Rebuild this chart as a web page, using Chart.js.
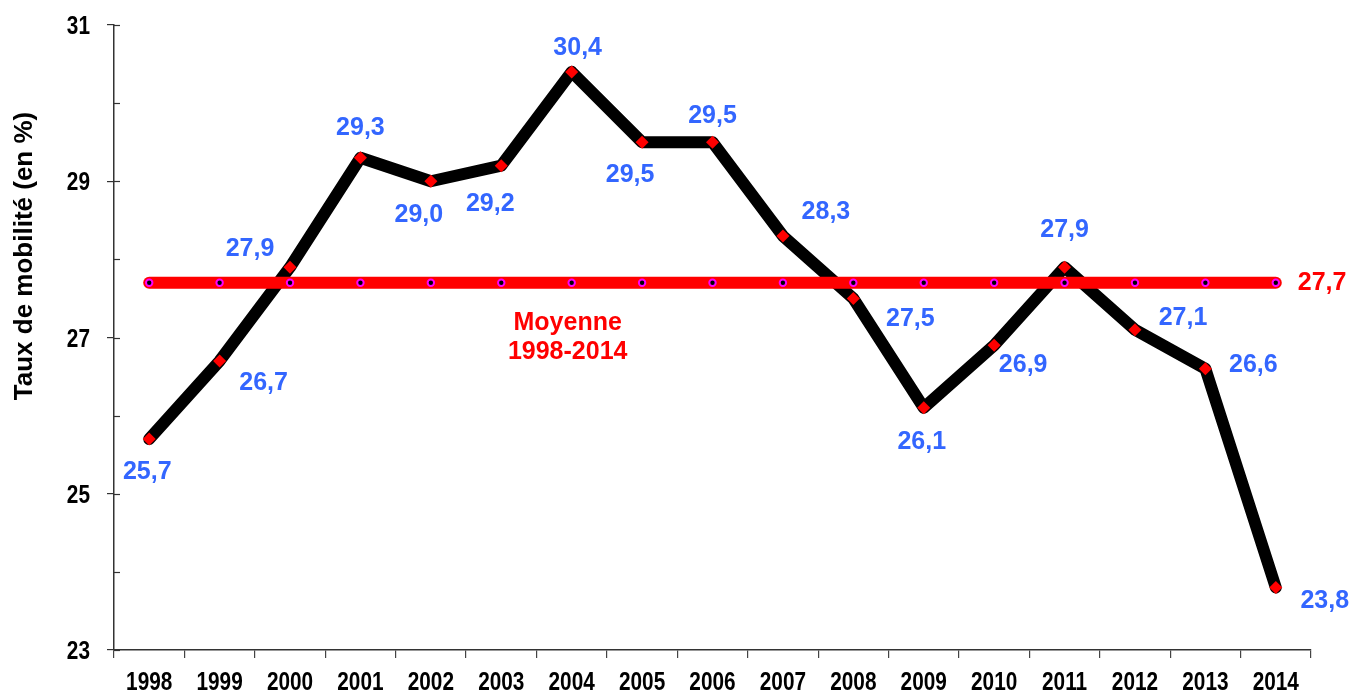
<!DOCTYPE html>
<html lang="fr">
<head>
<meta charset="utf-8">
<title>Taux de mobilité 1998-2014</title>
<script src="https://cdn.jsdelivr.net/npm/chart.js@4/dist/chart.umd.min.js"></script>
<style>
  html, body { margin: 0; padding: 0; background: #fff; overflow: hidden; }
  canvas { display: block; }
</style>
</head>
<body>
<canvas id="mobilite" width="1351" height="693"></canvas>
<script>
// data
const years = ["1998", "1999", "2000", "2001", "2002", "2003", "2004", "2005", "2006",
  "2007", "2008", "2009", "2010", "2011", "2012", "2013", "2014"];
const taux = [25.7, 26.7, 27.9, 29.3, 29.0, 29.2, 30.4, 29.5, 29.5,
  28.3, 27.5, 26.1, 26.9, 27.9, 27.1, 26.6, 23.8];
const moyenne = 27.7;
const moyenneText = ["Moyenne", "1998-2014"];
const yTickLabels = [23, 25, 27, 29, 31];
const yTitle = "Taux de mobilité (en %)";

// where each value label sits relative to its point (px)
const labelShift = [[-2, 33], [44, 22], [-40, -18], [0, -30], [-12, 34], [-11, 38],
  [6, -24], [-12, 33], [0, -26], [43, -24], [57, 21], [-2, 34], [29, 20],
  [0, -37], [48, -12], [48, -4], [49, 14]];

const sansBold = "'Liberation Sans', Arial, sans-serif";
const blue = "#3366FF";
const red = "#FF0000";
const narrow = 0.8; // horizontal squeeze that imitates Arial Narrow on the axes

function fr(v) {
  return v.toFixed(1).replace(".", ",");
}

// draws a narrow-looking label anchored (align) at x
function narrowText(ctx, txt, x, y, align) {
  ctx.save();
  ctx.translate(x, y);
  ctx.scale(narrow, 1);
  ctx.textAlign = align;
  ctx.fillText(txt, 0, 0);
  ctx.restore();
}

const extras = {
  id: "extras",
  afterDraw(chart) {
    const ctx = chart.ctx;
    const x = chart.scales.x;
    const y = chart.scales.y;
    ctx.save();

    // inner tick marks on the y axis (minor ones only inside)
    ctx.strokeStyle = "#333";
    ctx.lineWidth = 1.2;
    for (let v = 23; v <= 31; v++) {
      const py = Math.round(y.getPixelForValue(v)) + 0.5;
      ctx.beginPath();
      ctx.moveTo(x.left, py);
      ctx.lineTo(x.left + 6, py);
      ctx.stroke();
    }

    // axis labels
    ctx.fillStyle = "#000";
    ctx.font = "bold 26px " + sansBold;
    ctx.textBaseline = "alphabetic";
    x.ticks.forEach((t, i) => {
      narrowText(ctx, years[i], x.getPixelForTick(i), x.top + 40, "center");
    });
    yTickLabels.forEach((v) => {
      narrowText(ctx, String(v), x.left - 24, y.getPixelForValue(v) + 9, "right");
    });

    // value labels
    ctx.fillStyle = blue;
    ctx.font = "bold 25px " + sansBold;
    ctx.textAlign = "center";
    ctx.textBaseline = "middle";
    const meta = chart.getDatasetMeta(1);
    meta.data.forEach((pt, i) => {
      ctx.fillText(fr(taux[i]), pt.x + labelShift[i][0], pt.y + labelShift[i][1]);
    });

    // average annotations
    const ay = y.getPixelForValue(moyenne);
    ctx.fillStyle = red;
    ctx.textAlign = "left";
    ctx.fillText(fr(moyenne), x.getPixelForValue(years.length - 1) + 22, ay);
    ctx.textAlign = "center";
    const mx = x.getPixelForValue(6) - 4;
    ctx.fillText(moyenneText[0], mx, ay + 40);
    ctx.fillText(moyenneText[1], mx, ay + 69);

    // y axis title
    ctx.fillStyle = "#000";
    ctx.font = "bold 26px " + sansBold;
    ctx.translate(25, 256);
    ctx.rotate(-Math.PI / 2);
    ctx.fillText(yTitle, 0, 0);
    ctx.restore();
  }
};

new Chart(document.getElementById("mobilite"), {
  type: "line",
  data: {
    labels: years,
    datasets: [
      {
        label: "Moyenne 1998-2014",
        data: years.map(() => moyenne),
        borderColor: red,
        borderWidth: 12,
        borderCapStyle: "round",
        pointStyle: "circle",
        pointRadius: 3.2,
        pointBorderWidth: 2,
        pointBackgroundColor: "#000",
        pointBorderColor: "#FF00FF",
        tension: 0
      },
      {
        label: "Taux de mobilité",
        data: taux,
        borderColor: "#000",
        borderWidth: 12,
        borderCapStyle: "round",
        borderJoinStyle: "round",
        pointStyle: "rectRot",
        pointRadius: 6.5,
        pointBorderWidth: 0,
        pointBackgroundColor: red,
        pointBorderColor: red,
        tension: 0
      }
    ]
  },
  options: {
    responsive: false,
    animation: false,
    layout: { padding: { top: 25, right: 40, left: 0, bottom: 0 } },
    plugins: {
      legend: { display: false },
      tooltip: { enabled: false }
    },
    scales: {
      x: {
        offset: true,
        border: { display: true, color: "#333", width: 1.5 },
        grid: {
          offset: true,
          drawOnChartArea: false,
          drawTicks: true,
          tickLength: 8,
          color: "#444",
          lineWidth: 1.2
        },
        ticks: {
          color: "rgba(0,0,0,0)",
          padding: 6,
          maxRotation: 0,
          autoSkip: false,
          font: { family: sansBold, size: 8, weight: "bold" }
        },
        afterFit(scale) { scale.height = 43; }
      },
      y: {
        min: 23,
        max: 31,
        border: { display: true, color: "#333", width: 1.5 },
        grid: {
          drawOnChartArea: false,
          drawTicks: true,
          tickLength: 7,
          lineWidth: 1.2,
          color: (c) => (yTickLabels.includes(c.tick.value) ? "#333" : "rgba(0,0,0,0)")
        },
        ticks: {
          stepSize: 1,
          autoSkip: false,
          color: "rgba(0,0,0,0)",
          padding: 17,
          font: { family: sansBold, size: 8, weight: "bold" },
          callback: (v) => (yTickLabels.includes(v) ? String(v) : "")
        },
        afterFit(scale) { scale.width = 114; }
      }
    }
  },
  plugins: [extras]
});
</script>
</body>
</html>
